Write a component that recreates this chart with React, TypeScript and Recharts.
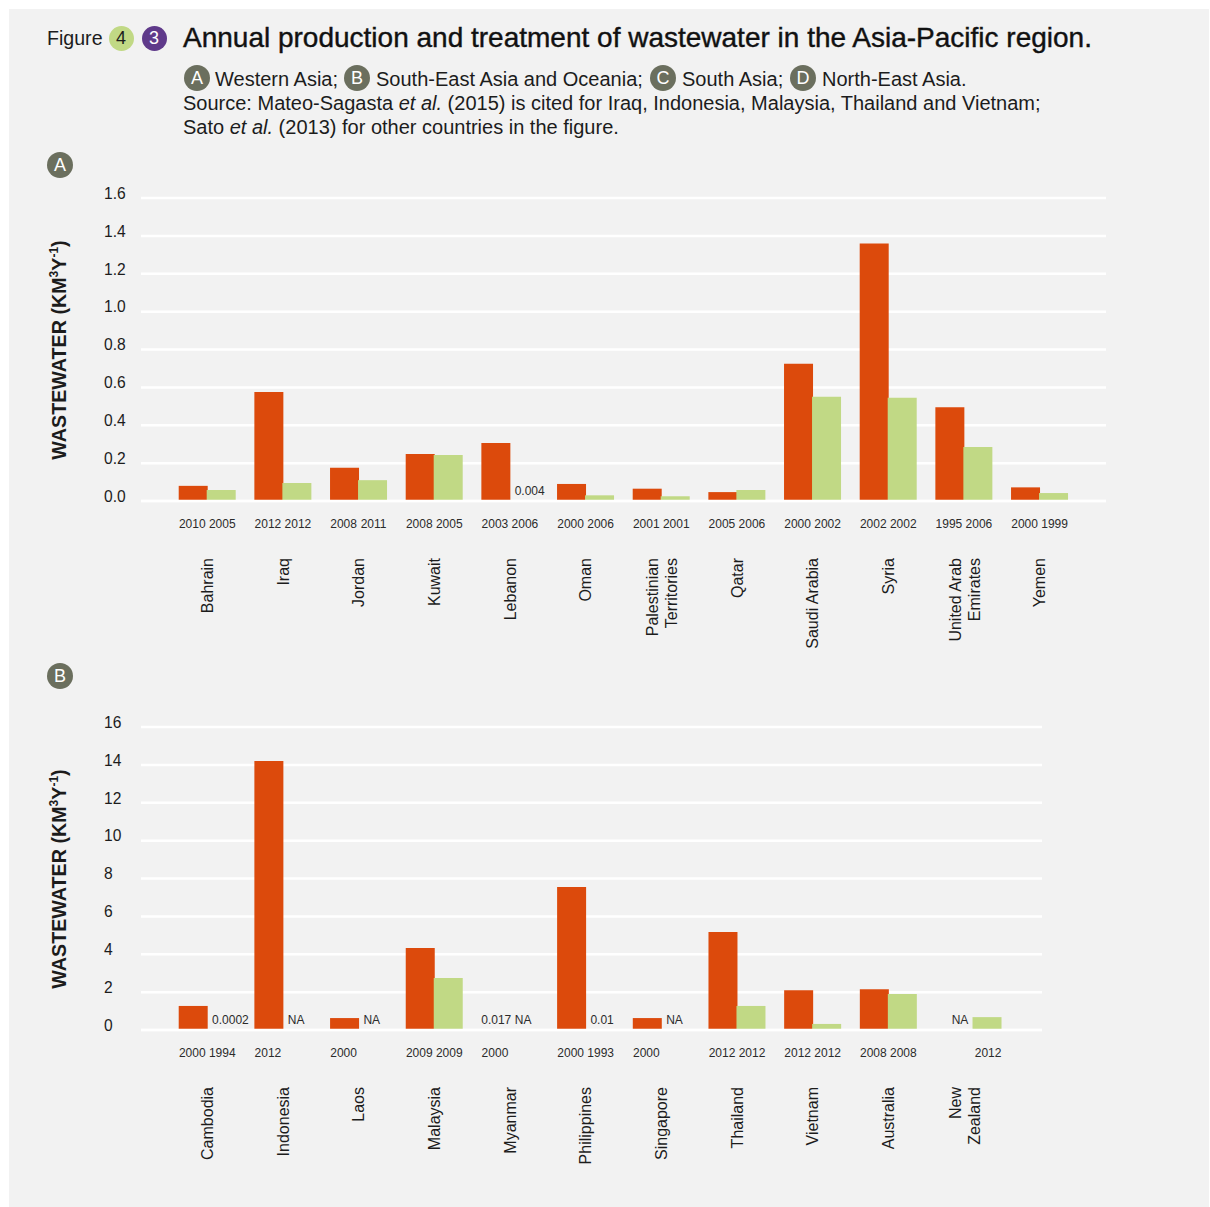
import React from "react";
import { BarChart, Bar, XAxis, YAxis, CartesianGrid, ReferenceLine, Rectangle } from "recharts";

const FONT = "'Liberation Sans', Arial, sans-serif";
const RED = "#dc4a0c";
const GREEN = "#c1d985";
const GREY = "#6b6f5e";
const INK = "#1c1c1c";

// Panel A: Western Asia
const countriesA = ["Bahrain","Iraq","Jordan","Kuwait","Lebanon","Oman","Palestinian\nTerritories","Qatar","Saudi Arabia","Syria","United Arab\nEmirates","Yemen"];
const producedA = [0.08,0.575,0.175,0.248,0.306,0.09,0.065,0.047,0.725,1.36,0.495,0.072];
const treatedA = [0.058,0.095,0.11,0.243,0.004,0.03,0.025,0.058,0.55,0.545,0.285,0.042];
const producedYearsA = ["2010","2012","2008","2008","2003","2000","2001","2005","2000","2002","1995","2000"];
const treatedYearsA = ["2005","2012","2011","2005","2006","2006","2001","2006","2002","2002","2006","1999"];
const producedNotesA = ["","","","","","","","","","","",""];
const treatedNotesA = ["","","","","0.004","","","","","","",""];
const ticksA = [0,0.2,0.4,0.6,0.8,1.0,1.2,1.4,1.6];

// Panel B: South-East Asia and Oceania
const countriesB = ["Cambodia","Indonesia","Laos","Malaysia","Myanmar","Philippines","Singapore","Thailand","Vietnam","Australia","New\nZealand"];
const producedB = [1.27,14.2,0.63,4.33,0.017,7.55,0.63,5.17,2.1,2.15,null];
const treatedB = [0.0002,null,null,2.75,null,0.01,null,1.27,0.32,1.9,0.68];
const producedYearsB = ["2000","2012","2000","2009","2000","2000","2000","2012","2012","2008",""];
const treatedYearsB = ["1994","","","2009","","1993","","2012","2012","2008","2012"];
const producedNotesB = ["","","","","0.017","","","","","","NA"];
const treatedNotesB = ["0.0002","NA","NA","","NA","0.01","NA","","","",""];
const ticksB = [0,2,4,6,8,10,12,14,16];

const rows = (c: string[], p: (number|null)[], t: (number|null)[], py: string[], ty: string[], pn: string[], tn: string[]) =>
  c.map((name, i) => ({ name, produced: p[i], treated: t[i], py: py[i], ty: ty[i], pn: pn[i], tn: tn[i] }));

const dataA = rows(countriesA, producedA, treatedA, producedYearsA, treatedYearsA, producedNotesA, treatedNotesA);
const dataB = rows(countriesB, producedB, treatedB, producedYearsB, treatedYearsB, producedNotesB, treatedNotesB);

// A treated bar with no produced bar beside it sits a little to the right, as in the source figure.
const LONE_SHIFT = 9;
const TreatedBar = (props: any) => {
  const lone = props.payload && props.payload.produced == null;
  return <Rectangle {...props} x={props.x + (lone ? LONE_SHIFT : 0)} />;
};

function Chart({ data, ticks, digits, top, width, padRight }: any) {
  const XTick = (props: any) => {
    const { x, y, payload, index } = props;
    const d = data[index];
    const lone = d.produced == null;
    const lines = String(payload.value).split("\n");
    const base = y;
    return (
      <g fontFamily={FONT} fill={INK}>
        <text x={x - 15.3} y={base + 19} fontSize={12} textAnchor="middle" fill="#2b2b2b">{d.py}</text>
        <text x={x + 14.7 + (lone ? LONE_SHIFT : 0)} y={base + 19} fontSize={12} textAnchor="middle" fill="#2b2b2b">{d.ty}</text>
        {d.pn ? <text x={x + (lone ? 4 : 1)} y={base - 14.5} fontSize={12} textAnchor="end" fill="#2b2b2b">{d.pn}</text> : null}
        {d.tn ? <text x={x + 4.5} y={base - 14.5} fontSize={12} textAnchor="start" fill="#2b2b2b">{d.tn}</text> : null}
        {lines.map((l: string, i: number) => {
          const bx = lines.length > 1 ? x - 3.5 + i * 19 : x + 5.5;
          return (
            <text key={i} x={bx} y={base + 49} fontSize={16} textAnchor="end" transform={`rotate(-90 ${bx} ${base + 49})`}>{l}</text>
          );
        })}
      </g>
    );
  };
  const YTick = (props: any) => (
    <text x={104} y={props.y + 0.8} fontFamily={FONT} fontSize={15.6} fill={INK} textAnchor="start">
      {Number(props.payload.value).toFixed(digits)}
    </text>
  );
  return (
    <div style={{ position: "absolute", left: 0, top, width, height: 490 }}>
      <BarChart width={width} height={490} data={data} margin={{ top: 28, left: 104, right: 24, bottom: 0 }} barSize={29} barGap={-1}>
        <CartesianGrid horizontal vertical={false} stroke="#ffffff" strokeWidth={2.5} />
        <XAxis dataKey="name" interval={0} height={159} padding={{ left: 28.7, right: padRight }} axisLine={false} tickLine={false} tick={XTick} />
        <YAxis width={37} domain={[0, ticks[ticks.length - 1]]} ticks={ticks} axisLine={false} tickLine={false} tick={YTick} />
        <Bar dataKey="produced" fill={RED} isAnimationActive={false} />
        <Bar dataKey="treated" fill={GREEN} isAnimationActive={false} shape={TreatedBar} />
        <ReferenceLine y={0} stroke="#ffffff" strokeWidth={2.5} />
      </BarChart>
    </div>
  );
}

const abs = (left: number, top: number, size: number, extra: any = {}) => ({
  position: "absolute" as const, left, top, fontSize: size, lineHeight: "24px", whiteSpace: "nowrap" as const, color: INK, fontFamily: FONT, ...extra,
});

function Dot({ x, y, d, bg, color, children }: any) {
  return (
    <div style={{ position: "absolute", left: x - d / 2, top: y - d / 2, width: d, height: d, borderRadius: "50%", background: bg, color, fontFamily: FONT, fontSize: 18, lineHeight: `${d}px`, textAlign: "center" }}>
      {children}
    </div>
  );
}

function AxisTitle({ cy }: { cy: number }) {
  return (
    <div style={{ position: "absolute", left: 59, top: cy, width: 0, height: 0 }}>
      <div style={{ position: "absolute", transform: "translate(-50%,-50%) rotate(-90deg)", whiteSpace: "nowrap", fontFamily: FONT, fontWeight: 700, fontSize: 19.7, color: INK, lineHeight: "24px" }}>
        WASTEWATER (KM<sup style={{ fontSize: 12, lineHeight: 0 }}>3</sup>Y<sup style={{ fontSize: 12, lineHeight: 0 }}>-1</sup>)
      </div>
    </div>
  );
}

export default function App() {
  return (
    <div>
      <div style={{ position: "absolute", left: 9, top: 9, width: 1200, height: 1198, background: "#f2f2f2" }} />
      <div style={abs(47, 26, 19.6)}>Figure</div>
      <Dot x={121} y={38} d={25} bg={GREEN} color={INK}>4</Dot>
      <Dot x={154} y={38} d={25} bg="#5f3a8a" color="#fff">3</Dot>
      <div style={abs(183, 26, 28, { WebkitTextStroke: "0.4px #111", color: "#111" })}>Annual production and treatment of wastewater in the Asia-Pacific region.</div>

      <Dot x={197} y={78} d={26} bg={GREY} color="#fff">A</Dot>
      <div style={abs(215, 67, 20)}>Western Asia;</div>
      <Dot x={357} y={78} d={26} bg={GREY} color="#fff">B</Dot>
      <div style={abs(376, 67, 20)}>South-East Asia and Oceania;</div>
      <Dot x={663} y={78} d={26} bg={GREY} color="#fff">C</Dot>
      <div style={abs(682, 67, 20)}>South Asia;</div>
      <Dot x={803} y={78} d={26} bg={GREY} color="#fff">D</Dot>
      <div style={abs(822, 67, 20)}>North-East Asia.</div>
      <div style={abs(183, 91, 20)}>Source: Mateo-Sagasta <i>et al.</i> (2015) is cited for Iraq, Indonesia, Malaysia, Thailand and Vietnam;</div>
      <div style={abs(183, 115, 20)}>Sato <i>et al.</i> (2013) for other countries in the figure.</div>

      <Dot x={60} y={165} d={26} bg={GREY} color="#fff">A</Dot>
      <Dot x={60} y={676} d={26} bg={GREY} color="#fff">B</Dot>
      <AxisTitle cy={350} />
      <AxisTitle cy={879} />

      <Chart data={dataA} ticks={ticksA} digits={1} top={170} width={1130} padRight={28.3} />
      <Chart data={dataB} ticks={ticksB} digits={0} top={699} width={1066} padRight={39.8} />
    </div>
  );
}
